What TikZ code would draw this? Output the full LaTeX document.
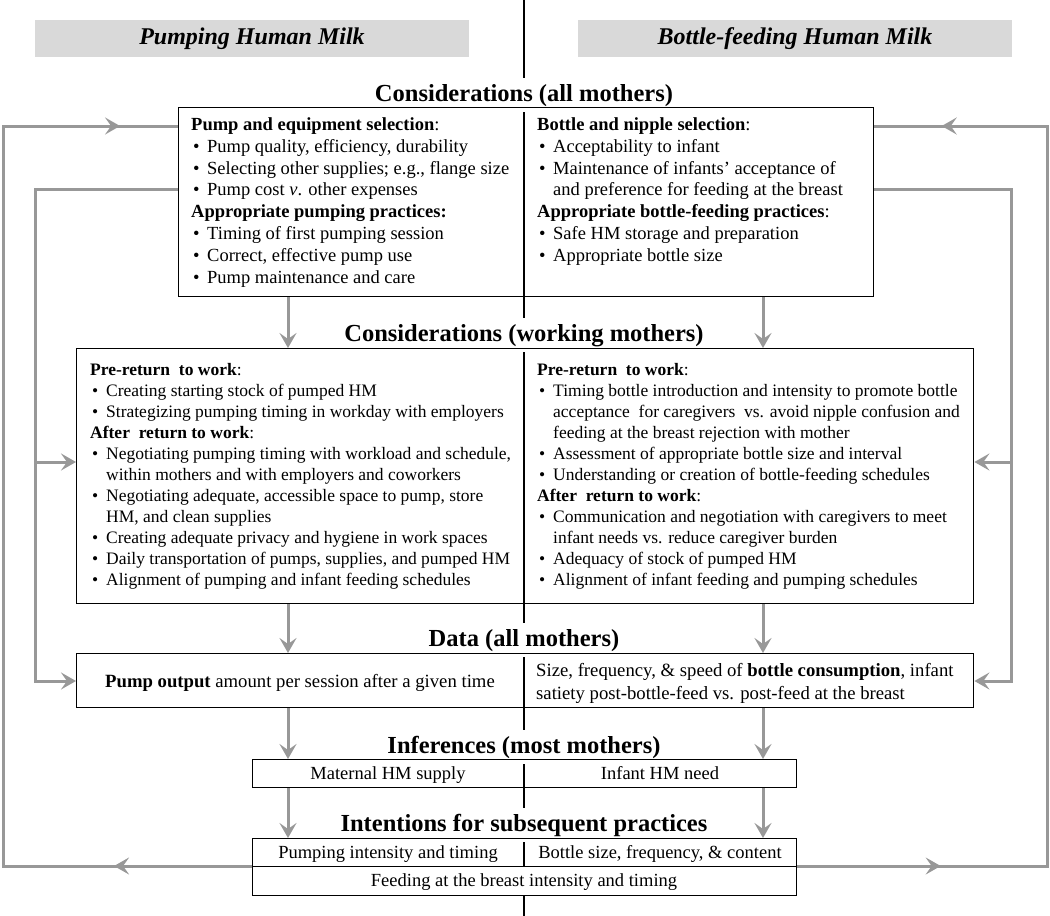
\documentclass[tikz,border=0pt]{standalone}
\usepackage{fontspec}
\setmainfont{Liberation Serif}
\usetikzlibrary{arrows.meta,decorations.markings}
\definecolor{arrowgray}{RGB}{152,152,152}
\definecolor{headgray}{RGB}{217,217,217}
\newcommand{\bu}{\hspace*{2pt}\makebox[14pt][l]{\textbullet}}
\newcommand{\ci}{\hspace*{16pt}}
\newcommand{\rows}[1]{\begin{tabular}[t]{@{}l@{}}#1\end{tabular}}
\newcommand{\fA}{\fontsize{18.5}{21.8}\selectfont}
\newcommand{\fB}{\fontsize{17.5}{21}\selectfont}
\newcommand{\fC}{\fontsize{18.7}{23}\selectfont}
\begin{document}
\begin{tikzpicture}[x=1pt,y=-1pt,
  box/.style={draw=black, line width=1.4pt, inner sep=0pt, anchor=north west},
  txt/.style={inner sep=0pt, anchor=base west},
  ctxt/.style={inner sep=0pt, anchor=base},
  title/.style={fill=white, inner xsep=3pt, inner ysep=6pt, anchor=base,
    font=\bfseries\fontsize{24.5}{28}\selectfont},
  hbox/.style={fill=headgray, minimum width=434pt, minimum height=37pt, inner sep=0pt,
    font=\bfseries\itshape\fontsize{24}{28}\selectfont},
  gline/.style={draw=arrowgray, line width=3pt, line join=miter},
  garrow/.style={gline, -{Stealth[length=15pt,width=17pt,inset=6pt]}},
  marr/.style={line width=3pt, postaction={decorate}, decoration={markings,
    mark=at position #1 with {\arrow[arrowgray]{Stealth[length=15pt,width=17pt,inset=6pt]}}}}
]
\useasboundingbox (0,0) rectangle (1050,916);

% central divider
\coordinate (ctop) at (524,0);
\coordinate (cbot) at (524,916);
\draw[line width=1.2pt] (ctop) -- (cbot);

% headers
\node[hbox] (hl) at (252,38.5) {Pumping Human Milk};
\node[hbox] (hr) at (795,38.5) {Bottle-feeding Human Milk};

% titles
\node[title] (t1) at (524,101) {Considerations (all mothers)};
\node[title] (t2) at (524,341) {Considerations (working mothers)};
\node[title] (t3) at (524,646) {Data (all mothers)};
\node[title] (t4) at (524,753) {Inferences (most mothers)};
\node[title] (t5) at (524,831) {Intentions for subsequent practices};

% boxes
\node[box, minimum width=695pt, minimum height=189pt] (c1) at (178,107) {};
\node[box, minimum width=897pt, minimum height=255pt] (c2) at (76,348) {};
\node[box, minimum width=897pt, minimum height=54pt] (data) at (76,653) {};
\node[box, minimum width=544pt, minimum height=28pt] (inf) at (252,759) {};
\node[box, minimum width=544pt, minimum height=28pt] (int1) at (252,838) {};
\node[box, fill=white, minimum width=544pt, minimum height=29pt] (int2) at (252,866) {};

% box 1 text
\node[txt, font=\fA] (c1l) at (191,130.5) {\rows{%
\textbf{Pump and equipment selection}:\\
\bu Pump quality, efficiency, durability\\
\bu Selecting other supplies; e.g., flange size\\
\bu Pump cost \textit{v}. other expenses\\
\textbf{Appropriate pumping practices:}\\
\bu Timing of first pumping session\\
\bu Correct, effective pump use\\
\bu Pump maintenance and care}};
\node[txt, font=\fA] (c1r) at (537,130.5) {\rows{%
\textbf{Bottle and nipple selection}:\\
\bu Acceptability to infant\\
\bu Maintenance of infants' acceptance of\\
\ci and preference for feeding at the breast\\
\textbf{Appropriate bottle-feeding practices}:\\
\bu Safe HM storage and preparation\\
\bu Appropriate bottle size}};

% box 2 text
\node[txt, font=\fB] (c2l) at (90,375) {\rows{%
\textbf{Pre-return\ \ to work}:\\
\bu Creating starting stock of pumped HM\\
\bu Strategizing pumping timing in workday with employers\\
\textbf{After\ \ return to work}:\\
\bu Negotiating pumping timing with workload and schedule,\\
\ci within mothers and with employers and coworkers\\
\bu Negotiating adequate, accessible space to pump, store\\
\ci HM, and clean supplies\\
\bu Creating adequate privacy and hygiene in work spaces\\
\bu Daily transportation of pumps, supplies, and pumped HM\\
\bu Alignment of pumping and infant feeding schedules}};
\node[txt, font=\fB] (c2r) at (537,375) {\rows{%
\textbf{Pre-return\ \ to work}:\\
\bu Timing bottle introduction and intensity to promote bottle\\
\ci acceptance\ \ for caregivers\ \ vs. avoid nipple confusion and\\
\ci feeding at the breast rejection with mother\\
\bu Assessment of appropriate bottle size and interval\\
\bu Understanding or creation of bottle-feeding schedules\\
\textbf{After\ \ return to work}:\\
\bu Communication and negotiation with caregivers to meet\\
\ci infant needs vs. reduce caregiver burden\\
\bu Adequacy of stock of pumped HM\\
\bu Alignment of infant feeding and pumping schedules}};

% data text
\node[ctxt, font=\fC] (dl) at (300,687) {\textbf{Pump output} amount per session after a given time};
\node[txt, font=\fC] (dr) at (536,676) {\rows{%
Size, frequency, \& speed of \textbf{bottle consumption}, infant\\
satiety post-bottle-feed vs. post-feed at the breast}};

% inferences / intentions text
\node[ctxt, font=\fA] (il) at (388,779) {Maternal HM supply};
\node[ctxt, font=\fA] (ir) at (660,779) {Infant HM need};
\node[ctxt, font=\fA] (nl) at (388,858) {Pumping intensity and timing};
\node[ctxt, font=\fA] (nr) at (660,858) {Bottle size, frequency, \& content};
\node[ctxt, font=\fA] (nb) at (524,886) {Feeding at the breast intensity and timing};

% vertical gray arrows
\coordinate (L) at (288,0);
\coordinate (R) at (763,0);
\draw[garrow] (c1.south -| L) -- (c2.north -| L);
\draw[garrow] (c1.south -| R) -- (c2.north -| R);
\draw[garrow] (c2.south -| L) -- (data.north -| L);
\draw[garrow] (c2.south -| R) -- (data.north -| R);
\draw[garrow] (data.south -| L) -- (inf.north -| L);
\draw[garrow] (data.south -| R) -- (inf.north -| R);
\draw[garrow] (inf.south -| L) -- (int1.north -| L);
\draw[garrow] (inf.south -| R) -- (int1.north -| R);

% outer loops
\coordinate (OLT) at (3,126);
\coordinate (OLB) at (3,866);
\coordinate (ORT) at (1047,126);
\coordinate (ORB) at (1047,866);
\draw[gline] (int2.north west) -- (OLB) -- (OLT) -- (OLT -| c1.west);
\draw[gline] (int2.north east) -- (ORB) -- (ORT) -- (ORT -| c1.east);
\path[marr=0.554] (int2.north west) -- (OLB);
\path[marr=0.669] (OLT) -- (OLT -| c1.west);
\path[marr=0.574] (int2.north east) -- (ORB);
\path[marr=0.61] (ORT) -- (ORT -| c1.east);

% inner loops
\coordinate (ILT) at (35,189);
\coordinate (ILM) at (35,462);
\coordinate (ILB) at (35,681);
\coordinate (IRT) at (1011,189);
\coordinate (IRM) at (1011,462);
\coordinate (IRB) at (1011,681);
\draw[garrow] (ILT -| c1.west) -- (ILT) -- (ILB) -- (ILB -| data.west);
\draw[garrow] (ILM) -- (ILM -| c2.west);
\draw[garrow] (IRT -| c1.east) -- (IRT) -- (IRB) -- (IRB -| data.east);
\draw[garrow] (IRM) -- (IRM -| c2.east);
\end{tikzpicture}
\end{document}
